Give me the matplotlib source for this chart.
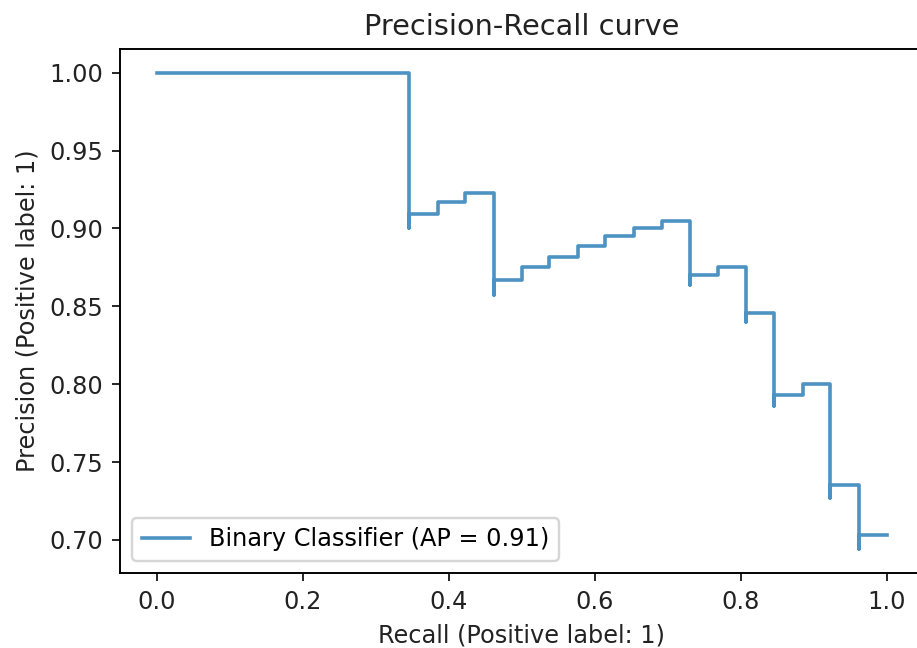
import matplotlib
matplotlib.use("Agg")
import matplotlib.pyplot as plt

# points as returned by precision_recall_curve (recall decreasing)
recall = [1.000, 0.962, 0.962, 0.923, 0.923, 0.885, 0.846, 0.846, 0.808, 0.808,
          0.769, 0.731, 0.731, 0.692, 0.654, 0.615, 0.577, 0.538, 0.500, 0.462,
          0.462, 0.423, 0.385, 0.346, 0.346, 0.000]
precision = [0.703, 0.694, 0.735, 0.727, 0.800, 0.793, 0.786, 0.846, 0.840, 0.875,
             0.870, 0.864, 0.905, 0.900, 0.895, 0.889, 0.882, 0.875, 0.867, 0.857,
             0.923, 0.917, 0.909, 0.900, 1.000, 1.000]
label = "Binary Classifier (AP = 0.91)"

dpi = 172.8
W, H = 917, 648
fig = plt.figure(figsize=(W / dpi, H / dpi), dpi=dpi)
ax = fig.add_axes([120 / W, 1 - 573 / H, (923 - 120) / W, (573 - 49) / H])

ax.plot(recall, precision, drawstyle="steps-post", color="C0", alpha=0.8,
        label=label)
ax.set_xlabel("Recall (Positive label: 1)", color="#222222")
ax.set_ylabel("Precision (Positive label: 1)", color="#222222")
ax.set_title("Precision-Recall curve", color="#222222")
ax.tick_params(colors="#222222")
ax.legend(loc="lower left")

fig.savefig("out.png", dpi=dpi)
